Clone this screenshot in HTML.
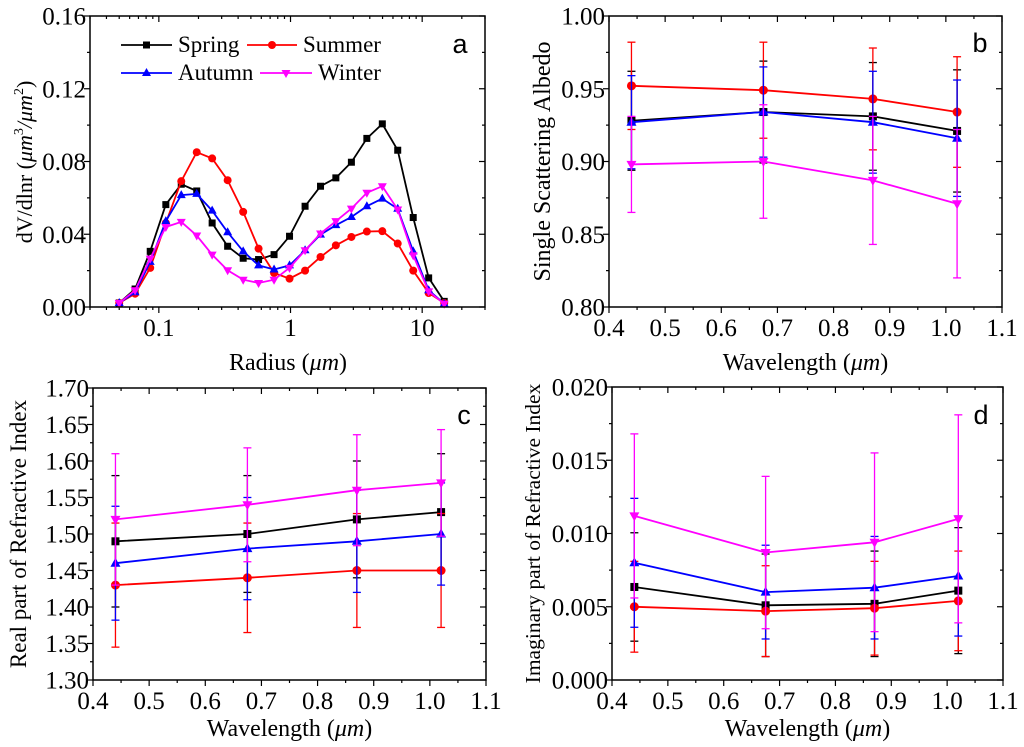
<!DOCTYPE html>
<html><head><meta charset="utf-8"><style>
html,body{margin:0;padding:0;background:#fff}
svg{display:block}
</style></head><body>
<svg id="fig" width="1024" height="747" viewBox="0 0 1024 747" xmlns="http://www.w3.org/2000/svg"></svg>
<script>
// ---------- data ----------
const seasons = ["Spring","Summer","Autumn","Winter"];
const seasonColors = ["#000000","#ff0000","#0000ff","#ff00ff"];
const seasonMarkers = ["square","circle","triangle","invtriangle"];

// panel a: volume size distribution
const radii = [0.050,0.066,0.086,0.113,0.148,0.194,0.254,0.333,0.437,0.572,0.750,0.983,1.29,1.69,2.21,2.90,3.80,4.98,6.52,8.55,11.2,14.7];
const sizeSpring = [0.0022,0.0099,0.0306,0.0563,0.0675,0.0638,0.0462,0.0334,0.0268,0.0261,0.0288,0.0389,0.0554,0.0664,0.0710,0.0796,0.0927,0.1007,0.0862,0.0492,0.0160,0.0031];
const sizeSummer = [0.0022,0.0073,0.0215,0.0462,0.0692,0.0851,0.0817,0.0697,0.0523,0.0321,0.0187,0.0156,0.0200,0.0275,0.0339,0.0385,0.0415,0.0417,0.0349,0.0200,0.0077,0.0022];
const sizeAutumn = [0.0022,0.0081,0.0248,0.0472,0.0615,0.0622,0.0530,0.0411,0.0306,0.0229,0.0206,0.0229,0.0312,0.0398,0.0450,0.0495,0.0554,0.0596,0.0540,0.0306,0.0092,0.0018];
const sizeWinter = [0.0022,0.0092,0.0266,0.0440,0.0468,0.0393,0.0288,0.0202,0.0150,0.0132,0.0150,0.0215,0.0312,0.0404,0.0472,0.0541,0.0628,0.0664,0.0536,0.0284,0.0086,0.0018];

const wavelengths = [0.44,0.675,0.87,1.02];
// panel b: single scattering albedo
const ssaSpring = [0.928,0.934,0.931,0.921];
const ssaSummer = [0.952,0.949,0.943,0.934];
const ssaAutumn = [0.927,0.934,0.927,0.916];
const ssaWinter = [0.898,0.900,0.887,0.871];
const ssaErrSpring = [0.034,0.035,0.037,0.042];
const ssaErrSummer = [0.030,0.033,0.035,0.038];
const ssaErrAutumn = [0.032,0.031,0.035,0.040];
const ssaErrWinter = [0.033,0.039,0.044,0.051];
// panel c: real part
const realSpring = [1.49,1.50,1.52,1.53];
const realSummer = [1.43,1.44,1.45,1.45];
const realAutumn = [1.46,1.48,1.49,1.50];
const realWinter = [1.52,1.54,1.56,1.57];
const realErrSpring = [0.09,0.08,0.08,0.08];
const realErrSummer = [0.085,0.075,0.078,0.078];
const realErrAutumn = [0.078,0.07,0.07,0.07];
const realErrWinter = [0.09,0.078,0.076,0.073];
// panel d: imaginary part
const imagSpring = [0.00635,0.0051,0.0052,0.0061];
const imagSummer = [0.0050,0.0047,0.0049,0.0054];
const imagAutumn = [0.0080,0.0060,0.0063,0.0071];
const imagWinter = [0.0112,0.0087,0.0094,0.0110];
const imagErrSpring = [0.0037,0.0035,0.0036,0.0043];
const imagErrSummer = [0.0031,0.0031,0.0032,0.0034];
const imagErrAutumn = [0.0044,0.0032,0.0035,0.0041];
const imagErrWinter = [0.0056,0.0052,0.0061,0.0071];

const ticksA = ["0.00","0.04","0.08","0.12","0.16"];
const ticksB = ["0.80","0.85","0.90","0.95","1.00"];
const ticksC = ["1.30","1.35","1.40","1.45","1.50","1.55","1.60","1.65","1.70"];
const ticksD = ["0.000","0.005","0.010","0.015","0.020"];
const ticksWl = ["0.4","0.5","0.6","0.7","0.8","0.9","1.0","1.1"];
const ticksLog = ["0.1","1","10"];

// ---------- drawing ----------
const NS="http://www.w3.org/2000/svg";
const svg=document.getElementById('fig');
const SERIF="'Liberation Serif', 'DejaVu Serif', serif";
const SANS="'Liberation Sans', 'DejaVu Sans', sans-serif";
const TICKFS=25, TITLEFS=24;
function el(tag,attrs,parent){const e=document.createElementNS(NS,tag);for(const k in attrs)e.setAttribute(k,attrs[k]);(parent||svg).appendChild(e);return e;}
function txt(s,x,y,size,anchor,parent,extra,family){const t=el('text',Object.assign({x:x,y:y,'font-size':size,'text-anchor':anchor||'middle',fill:'#000'},extra||{}),parent);t.style.fontFamily=family||SERIF;t.textContent=s;return t;}

function marker(g,type,x,y,color,s){
  s=s||4.5;let m;
  if(type==="square") m=el('rect',{x:x-s+0.5,y:y-s+0.5,width:2*s-1,height:2*s-1,fill:color},g);
  else if(type==="circle") m=el('circle',{cx:x,cy:y,r:s,fill:color},g);
  else if(type==="triangle") m=el('polygon',{points:`${x},${y-s-1} ${x-s-0.5},${y+s-1} ${x+s+0.5},${y+s-1}`,fill:color},g);
  else m=el('polygon',{points:`${x},${y+s+1} ${x-s-0.5},${y-s+1} ${x+s+0.5},${y-s+1}`,fill:color},g);
  return m;
}

function frame(g,L,R,T,B){el('rect',{x:L,y:T,width:R-L,height:B-T,fill:'none',stroke:'#000','stroke-width':1.5},g);}

function linTicksX(g,L,R,T,B,min,max,labels,step,minorStep,sx,ly){
  for(let v=min;v<=max+1e-9;v+=minorStep){const x=sx(v);const major=Math.abs(Math.round((v-min)/step)*step-(v-min))<1e-6;const len=major?6:3;
    el('line',{x1:x,y1:B,x2:x,y2:B+len,stroke:'#000','stroke-width':1.2},g);
    el('line',{x1:x,y1:T,x2:x,y2:T+len,stroke:'#000','stroke-width':1.2},g);}
  labels.forEach((s,i)=>{const t=txt(s,sx(min+i*step),ly,TICKFS,'middle',g);});
}
function linTicksY(g,L,R,T,B,min,max,labels,step,minorStep,sy){
  for(let v=min;v<=max+1e-9;v+=minorStep){const y=sy(v);const major=Math.abs(Math.round((v-min)/step)*step-(v-min))<1e-9;const len=major?6:3;
    el('line',{x1:L-len,y1:y,x2:L,y2:y,stroke:'#000','stroke-width':1.2},g);
    el('line',{x1:R-len,y1:y,x2:R,y2:y,stroke:'#000','stroke-width':1.2},g);}
  labels.forEach((s,i)=>{const t=txt(s,L-4,sy(min+i*step)+8.5,TICKFS,'end',g);});
}

function series(g,xs,ys,errs,sx,sy,color,mk,name){
  const sg=el('g',{},g);
  
  
  if(errs){xs.forEach((x,i)=>{const X=sx(x),y1=sy(ys[i]+errs[i]),y2=sy(ys[i]-errs[i]);
    el('line',{x1:X,y1:y1,x2:X,y2:y2,stroke:color,'stroke-width':1.3},sg);
    el('line',{x1:X-4,y1:y1,x2:X+4,y2:y1,stroke:color,'stroke-width':1.3},sg);
    el('line',{x1:X-4,y1:y2,x2:X+4,y2:y2,stroke:color,'stroke-width':1.3},sg);});}
  const pts=xs.map((x,i)=>sx(x).toFixed(1)+','+sy(ys[i]).toFixed(1)).join(' ');
  el('polyline',{points:pts,fill:'none',stroke:color,'stroke-width':1.8},sg);
  xs.forEach((x,i)=>{const m=marker(sg,mk,sx(x),sy(ys[i]),color,errs?4.5:4);});
}

// ----- Panel a -----
(function(){
  const g=el('g',{});
  const L=90,R=485,T=16,B=307;
  const lmin=Math.log10(0.03),lmax=Math.log10(30);
  const sx=v=>L+(Math.log10(v)-lmin)/(lmax-lmin)*(R-L);
  const sy=v=>B-(v/0.16)*(B-T);
  for(let d=-2;d<=1;d++){for(let k=1;k<=9;k++){const v=k*Math.pow(10,d);if(v<0.03-1e-9||v>30+1e-9)continue;const x=sx(v);const len=k===1?6:3;
    el('line',{x1:x,y1:B,x2:x,y2:B+len,stroke:'#000','stroke-width':1.2},g);
    el('line',{x1:x,y1:T,x2:x,y2:T+len,stroke:'#000','stroke-width':1.2},g);}}
  ticksLog.forEach(s=>{const t=txt(s,sx(parseFloat(s)),336,TICKFS,'middle',g);});
  linTicksY(g,L,R,T,B,0,0.16,ticksA,0.04,0.02,sy);
  const sets=[sizeSpring,sizeSummer,sizeAutumn,sizeWinter];
  sets.forEach((d,i)=>series(g,radii,d,null,sx,sy,seasonColors[i],seasonMarkers[i],'series-'+seasons[i].toLowerCase()));
  frame(g,L,R,T,B);
  const xt=txt('',288,370,TITLEFS,'middle',g);
  xt.innerHTML='Radius (<tspan font-style="italic">μm</tspan>)';
  const yt=txt('',0,0,22,'middle',g,{transform:'translate(32,162) rotate(-90)'});
  yt.innerHTML='dV/dlnr (<tspan font-style="italic">μm</tspan><tspan font-size="14" dy="-9">3</tspan><tspan dy="9" font-style="italic">/μm</tspan><tspan font-size="14" dy="-9">2</tspan><tspan dy="9">)</tspan>';
  const lt=txt('a',460,53,27,'middle',g,{},SANS);
  const lg=el('g',{},g);
  const pos=[[121,45],[247,45],[121,73],[260,73]];
  const len=[51,50,51,52];
  seasons.forEach((s,i)=>{const e=el('g',{},lg);
    const [x,y]=pos[i];const w=len[i];
    el('line',{x1:x,y1:y,x2:x+w,y2:y,stroke:seasonColors[i],'stroke-width':1.8},e);
    marker(e,seasonMarkers[i],x+w/2,y,seasonColors[i],4);
    txt(s,x+w+6,y+7,23,'start',e);});
})();

function wlPanel(name,L,R,T,B,ymin,ymax,ystep,yminor,yticks,data,errs,ytitle,ytX,ytFs,letter,letterY,xtOff){
  const g=el('g',{});
  const sx=v=>L+(v-0.4)/0.7*(R-L);
  const sy=v=>B-(v-ymin)/(ymax-ymin)*(B-T);
  linTicksX(g,L,R,T,B,0.4,1.1,ticksWl,0.1,0.05,sx,B+29);
  linTicksY(g,L,R,T,B,ymin,ymax,yticks,ystep,yminor,sy);
  data.forEach((d,i)=>series(g,wavelengths,d,errs[i],sx,sy,seasonColors[i],seasonMarkers[i],'series-'+seasons[i].toLowerCase()));
  frame(g,L,R,T,B);
  const xt=txt('',(L+R)/2,B+xtOff,TITLEFS,'middle',g);
  xt.innerHTML='Wavelength (<tspan font-style="italic">μm</tspan>)';
  const yt=txt(ytitle,0,0,ytFs,'middle',g,{transform:`translate(${ytX},${(T+B)/2}) rotate(-90)`});
  const lt=txt(letter,R-22,letterY,27,'middle',g,{},SANS);
}
wlPanel('panel-b-single-scattering-albedo',609,1002,16,307,0.80,1.00,0.05,0.025,ticksB,
  [ssaSpring,ssaSummer,ssaAutumn,ssaWinter],[ssaErrSpring,ssaErrSummer,ssaErrAutumn,ssaErrWinter],
  'Single Scattering Albedo',550,24,'b',52,63);
wlPanel('panel-c-real-refractive-index',93,486,388,680,1.30,1.70,0.05,0.025,ticksC,
  [realSpring,realSummer,realAutumn,realWinter],[realErrSpring,realErrSummer,realErrAutumn,realErrWinter],
  'Real part of Refractive Index',26,23,'c',424,56);
wlPanel('panel-d-imaginary-refractive-index',612,1003,387,680,0,0.020,0.005,0.0025,ticksD,
  [imagSpring,imagSummer,imagAutumn,imagWinter],[imagErrSpring,imagErrSummer,imagErrAutumn,imagErrWinter],
  'Imaginary part of  Refractive Index',540,21.5,'d',424,56);
</script>
</body></html>
